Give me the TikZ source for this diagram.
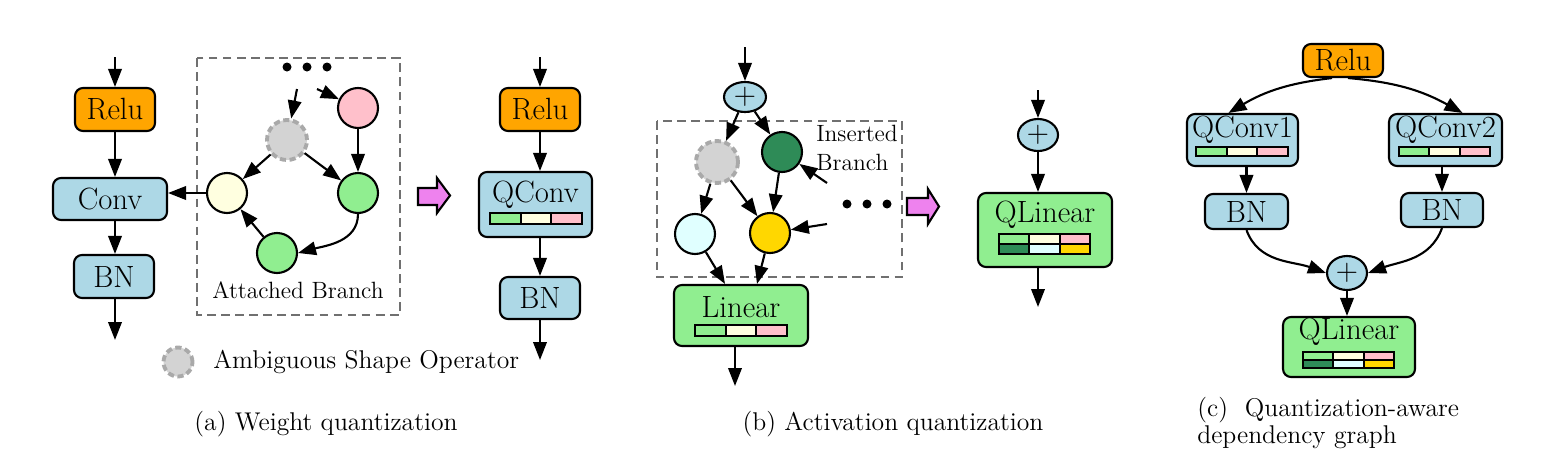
\documentclass[tikz,border=0pt]{standalone}
\usetikzlibrary{arrows.meta,calc,shapes.geometric}
\definecolor{cOrange}{HTML}{FFA500}
\definecolor{cLBlue}{HTML}{ADD8E6}
\definecolor{cLGreen}{HTML}{90EE90}
\definecolor{cPink}{HTML}{FFC0CB}
\definecolor{cLYellow}{HTML}{FFFFE0}
\definecolor{cSea}{HTML}{2E8B57}
\definecolor{cLCyan}{HTML}{E0FFFF}
\definecolor{cGold}{HTML}{FFD700}
\definecolor{cAmbF}{HTML}{D3D3D3}
\definecolor{cAmbD}{HTML}{A9A9A9}
\definecolor{cViolet}{HTML}{EE82EE}
\definecolor{cDash}{HTML}{707070}
\newcommand\lblfont{\fontsize{17.5}{20}\selectfont}
\newcommand\capfont{\fontsize{14.6}{15.8}\selectfont}
\newcommand\smfont{\fontsize{13.4}{16}\selectfont}
\newcommand\tribar[7]{%
  \pgfmathsetmacro\da{#1+(#2-#1)/3}%
  \pgfmathsetmacro\db{#1+2*(#2-#1)/3}%
  \draw[cellst,fill=#5] (#1,#3) rectangle (\da,#4);
  \draw[cellst,fill=#6] (\da,#3) rectangle (\db,#4);
  \draw[cellst,fill=#7] (\db,#3) rectangle (#2,#4);}
\tikzset{
  box/.style={draw, rounded corners=0.16cm, line width=1.2pt, inner sep=0pt, font=\lblfont},
  circ/.style={circle, draw, line width=1.2pt, minimum size=0.8cm, inner sep=0pt},
  amb/.style={circle, fill=cAmbF, draw=cAmbD, dash pattern=on 3.5pt off 2pt, line width=2.2pt, minimum size=0.8cm, inner sep=0pt},
  pluse/.style={ellipse, draw, fill=cLBlue, line width=1.2pt, inner sep=0pt, font=\lblfont},
  arr/.style={-{Triangle[length=0.36cm,width=0.27cm]}, line width=1.2pt},
  dbox/.style={draw=cDash, line width=1pt, dash pattern=on 5pt off 3pt},
  cellst/.style={draw, line width=1pt},
  dotn/.style={circle, fill, inner sep=0pt, minimum size=0.18cm},
  bigarr/.style={fill=cViolet, draw, line width=1.2pt, line join=miter},
  lbl/.style={font=\lblfont, inner sep=0pt},
  captxt/.style={font=\capfont, inner sep=0pt},
  sm/.style={font=\smfont, inner sep=0pt}
}
\begin{document}
\begin{tikzpicture}[x=0.02cm,y=-0.02cm]
\useasboundingbox (0,0) rectangle (1546,460);

% ---------------- panel (a) left ----------------
\coordinate (ain) at (115,57);
\node[box, fill=cOrange, minimum width=1.6cm, minimum height=0.86cm] (relu1) at (115,109.5) {Relu};
\node[box, fill=cLBlue, minimum width=2.28cm, minimum height=0.84cm] (conv) at (110,199) {Conv};
\node[box, fill=cLBlue, minimum width=1.6cm, minimum height=0.86cm] (bn1) at (114,276.5) {BN};
\coordinate (aout) at (115,340);
\draw[arr] (ain) -- (relu1.north);
\draw[arr] (relu1.south) -- (relu1.south |- conv.north);
\draw[arr] (relu1.south |- conv.south) -- (relu1.south |- bn1.north);
\draw[arr] (relu1.south |- bn1.south) -- (aout);

\draw[dbox] (197,58) rectangle (400,315);
\node[dotn] (d1) at (287,67) {};
\node[dotn] (d2) at (307,67) {};
\node[dotn] (d3) at (327,67) {};
\node[amb] (ga) at (287,140) {};
\node[circ, fill=cPink] (pk) at (358,108) {};
\node[circ, fill=cLYellow] (ly) at (227,193) {};
\node[circ, fill=cLGreen] (g1) at (358,193) {};
\node[circ, fill=cLGreen] (g2) at (277,253) {};
\coordinate (s1) at (297,89);
\coordinate (s2) at (317,89);
\draw[arr] (s1) -- (ga);
\draw[arr] (s2) -- (pk);
\draw[arr] (pk) -- (g1);
\draw[arr] (ga) -- (ly);
\draw[arr] (ga) -- (g1);
\draw[arr] (ly.west) -- (ly.west -| conv.east);
\draw[arr] (g1.south) to[out=-90,in=15] (g2.east);
\draw[arr] (g2) -- (ly);
\node[sm] (attl) at (298,290) {Attached Branch};

\draw[bigarr] (418,188) -- (437,188) -- (437,178) -- (450,195.5) -- (437,213) -- (437,205) -- (418,205) -- cycle;

\node[amb, minimum size=0.58cm] (leg) at (178,362) {};
\node[captxt, anchor=west] (legt) at (213,362) {Ambiguous Shape Operator};
\node[captxt] (capa) at (326,424) {(a) Weight quantization};

% ---------------- panel (a) right ----------------
\coordinate (bin) at (540,57);
\node[box, fill=cOrange, minimum width=1.6cm, minimum height=0.86cm] (relu2) at (540,109.5) {Relu};
\node[box, fill=cLBlue, minimum width=2.26cm, minimum height=1.3cm] (qconv) at (535.5,204.5) {};
\node[lbl] (qconvt) at (535.5,195) {QConv};
\tribar{490}{582}{213}{224}{cLGreen}{cLYellow}{cPink}
\node[box, fill=cLBlue, minimum width=1.6cm, minimum height=0.84cm] (bn2) at (540,298) {BN};
\coordinate (bout) at (540,360);
\draw[arr] (bin) -- (relu2.north);
\draw[arr] (relu2.south) -- (relu2.south |- qconv.north);
\draw[arr] (relu2.south |- qconv.south) -- (bn2.north);
\draw[arr] (bn2.south) -- (bout);

% ---------------- panel (b) left ----------------
\coordinate (cin) at (745,47);
\node[pluse, minimum width=0.84cm, minimum height=0.6cm] (plus1) at (745,97) {+};
\draw[arr] (cin) -- (plus1.north);
\draw[dbox] (657,121) rectangle (902,277);
\node[amb, minimum size=0.84cm] (gb) at (717,162) {};
\node[circ, fill=cSea] (dg) at (782,152) {};
\node[circ, fill=cLCyan] (lc) at (695,234) {};
\node[circ, fill=cGold] (gd) at (770,233) {};
\node[sm, anchor=west, align=left] (ins) at (816,148) {Inserted\\Branch};
\node[dotn] (e1) at (847,204) {};
\node[dotn] (e2) at (867,204) {};
\node[dotn] (e3) at (887,204) {};
\coordinate (x1) at (827,183);
\coordinate (x2) at (827,224);
\draw[arr] (plus1) -- (gb);
\draw[arr] (plus1) -- (dg);
\draw[arr] (gb) -- (lc);
\draw[arr] (gb) -- (gd);
\draw[arr] (dg) -- (gd);
\draw[arr] (x1) -- (dg);
\draw[arr] (x2) -- (gd);
\node[box, fill=cLGreen, minimum width=2.68cm, minimum height=1.22cm] (linear) at (741,315.5) {};
\node[lbl] (lint) at (741,307) {Linear};
\tribar{695}{787}{325}{336}{cLGreen}{cLYellow}{cPink}
\draw[arr] (lc) -- ($(linear.north)+(-16,0)$);
\draw[arr] (gd) -- ($(linear.north)+(16,0)$);
\coordinate (cout) at (735,386);
\draw[arr] (cout |- linear.south) -- (cout);

\draw[bigarr] (907,198) -- (928,198) -- (928,189) -- (939,206.5) -- (928,224) -- (928,215) -- (907,215) -- cycle;

% ---------------- panel (b) right ----------------
\coordinate (din) at (1038,90);
\node[pluse, minimum width=0.8cm, minimum height=0.64cm] (plus2) at (1038,135) {+};
\node[box, fill=cLGreen, minimum width=2.68cm, minimum height=1.48cm] (qlin1) at (1045,230) {};
\node[lbl] (qlin1t) at (1045,215) {QLinear};
\tribar{999}{1090}{234}{244}{cLGreen}{cLYellow}{cPink}
\tribar{999}{1090}{244}{254}{cSea}{cLCyan}{cGold}
\coordinate (dout) at (1038,307);
\draw[arr] (din) -- (plus2.north);
\draw[arr] (plus2.south) -- (plus2.south |- qlin1.north);
\draw[arr] (plus2.south |- qlin1.south) -- (dout);

\node[captxt] (capb) at (893,424) {(b) Activation quantization};

% ---------------- panel (c) ----------------
\node[box, fill=cOrange, minimum width=1.6cm, minimum height=0.66cm] (relu3) at (1343,60.5) {Relu};
\node[box, fill=cLBlue, minimum width=2.22cm, minimum height=1.04cm] (qc1) at (1242.5,140) {};
\node[lbl] (qc1t) at (1242.5,130) {QConv1};
\tribar{1196}{1288}{147}{156}{cLGreen}{cLYellow}{cPink}
\node[box, fill=cLBlue, minimum width=2.26cm, minimum height=1.04cm] (qc2) at (1445.5,140) {};
\node[lbl] (qc2t) at (1445.5,130) {QConv2};
\tribar{1399}{1490}{147}{156}{cLGreen}{cLYellow}{cPink}
\node[box, fill=cLBlue, minimum width=1.66cm, minimum height=0.7cm] (bn3) at (1246.5,211.5) {BN};
\node[box, fill=cLBlue, minimum width=1.64cm, minimum height=0.68cm] (bn4) at (1442,210) {BN};
\node[pluse, minimum width=0.8cm, minimum height=0.68cm] (plus3) at (1347,273) {+};
\node[box, fill=cLGreen, minimum width=2.64cm, minimum height=1.2cm] (qlin2) at (1349,347) {};
\node[lbl] (qlin2t) at (1349,332) {QLinear};
\tribar{1303}{1394}{352}{360}{cLGreen}{cLYellow}{cPink}
\tribar{1303}{1394}{360}{368}{cSea}{cLCyan}{cGold}
\draw[arr] ($(relu3.south)+(-11,0)$) to[bend right=12] ($(qc1.north)+(-14,0)$);
\draw[arr] ($(relu3.south)+(5,0)$) to[bend left=12] ($(qc2.north)+(17,0)$);
\draw[arr] (bn3 |- qc1.south) -- (bn3.north);
\draw[arr] (bn4 |- qc2.south) -- (bn4.north);
\draw[arr] (bn3.south) to[out=-70,in=160] (plus3.west);
\draw[arr] (bn4.south) to[out=-110,in=20] (plus3.east);
\draw[arr] (plus3.south) -- (plus3.south |- qlin2.north);
\node[captxt, anchor=west, align=left] (capc) at (1197,423) {(c)\ \ Quantization-aware\\dependency graph};
\end{tikzpicture}
\end{document}
